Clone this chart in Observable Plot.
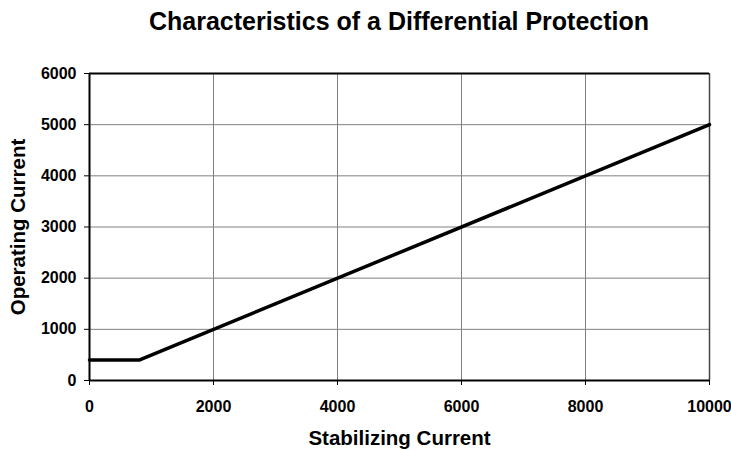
<!DOCTYPE html>
<html>
<head>
<meta charset="utf-8">
<script src="https://cdn.jsdelivr.net/npm/d3@7"></script>
<script src="https://cdn.jsdelivr.net/npm/@observablehq/plot@0.6"></script>
<style>
  html, body { margin: 0; padding: 0; background: #fff; }
  #title {
    width: 731px; box-sizing: border-box; padding-left: 67px;
    height: 45px; line-height: 42px; text-align: center;
    font-family: "Liberation Sans", Arial, sans-serif; font-weight: bold; font-size: 25px; color: #000;
  }
  svg { display: block; }
</style>
</head>
<body>
<div id="title">Characteristics of a Differential Protection</div>
<div id="chart"></div>
<script>
const stabilizingCurrent = [0, 800, 10000];
const operatingCurrent = [400, 400, 5000];
const xTicks = [0, 2000, 4000, 6000, 8000, 10000];
const yTicks = [0, 1000, 2000, 3000, 4000, 5000, 6000];
const xTitle = "Stabilizing Current";
const yTitle = "Operating Current";

const data = stabilizingCurrent.map((x, i) => ({x, y: operatingCurrent[i]}));

const plot = Plot.plot({
  width: 731,
  height: 405,
  marginLeft: 89,
  marginRight: 22,
  marginTop: 28,
  marginBottom: 70,
  style: {fontFamily: "'Liberation Sans', Arial, sans-serif", fontWeight: "bold", fontSize: "16px", color: "#000", background: "#fff"},
  x: {domain: [0, 10000]},
  y: {domain: [0, 6000]},
  marks: [
    Plot.gridX(xTicks, {stroke: "#808080", strokeOpacity: 1, strokeWidth: 1}),
    Plot.gridY(yTicks, {stroke: "#808080", strokeOpacity: 1, strokeWidth: 1}),
    Plot.ruleX([10000], {stroke: "#444", strokeWidth: 1.5}),
    Plot.ruleY([6000], {stroke: "#000", strokeWidth: 2}),
    Plot.axisX(xTicks, {tickSize: 5, tickPadding: 15, fontSize: 16, fontWeight: "bold", label: null, tickFormat: d => String(d)}),
    Plot.axisY(yTicks, {tickSize: 5, tickPadding: 8, fontSize: 16, fontWeight: "bold", label: null, tickFormat: d => String(d)}),
    Plot.ruleX([0], {stroke: "#000", strokeWidth: 2}),
    Plot.ruleY([0], {stroke: "#000", strokeWidth: 2}),
    Plot.line(data, {x: "x", y: "y", stroke: "#000", strokeWidth: 3.5}),
    Plot.text([xTitle], {frameAnchor: "bottom", dy: 58, lineAnchor: "middle", fontSize: 20.5, fontWeight: "bold", fill: "#000"}),
    Plot.text([yTitle], {frameAnchor: "left", dx: -71, rotate: -90, textAnchor: "middle", lineAnchor: "middle", fontSize: 20.5, fontWeight: "bold", fill: "#000"})
  ]
});
document.getElementById("chart").appendChild(plot);
</script>
</body>
</html>
